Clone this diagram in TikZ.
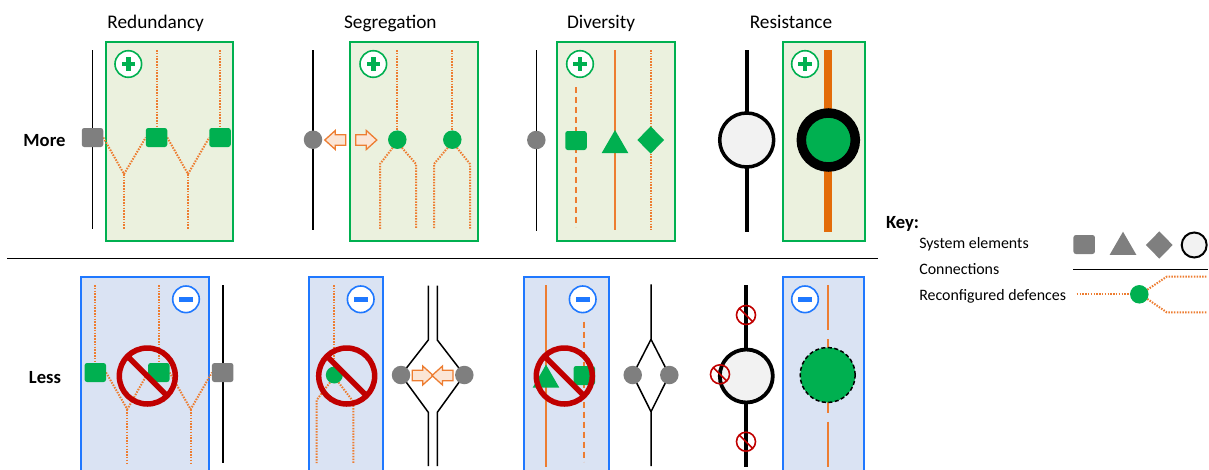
\documentclass[tikz,border=0pt]{standalone}
\usepackage{fontspec}
\setmainfont{Carlito}
\usetikzlibrary{shapes.geometric}
\pgfdeclarelayer{panel}
\pgfdeclarelayer{wire}
\pgfsetlayers{panel,wire,main}

\definecolor{elgreen}{HTML}{00B050}
\definecolor{elgray}{HTML}{7F7F7F}
\definecolor{reconor}{HTML}{ED7D31}
\definecolor{thickor}{HTML}{E36C09}
\definecolor{boxgreen}{HTML}{EBF1DE}
\definecolor{boxblue}{HTML}{DAE3F3}
\definecolor{edgeblue}{HTML}{1F78FF}
\definecolor{nored}{HTML}{C00000}
\definecolor{litegray}{HTML}{F2F2F2}
\definecolor{arrfill}{HTML}{FBE5D6}

\tikzset{
  every node/.style={inner sep=0pt, outer sep=0pt},
  title/.style={anchor=base, font=\fontsize{19.3}{23}\selectfont},
  rowlabel/.style={anchor=base, font=\bfseries\fontsize{18.6}{22}\selectfont},
  keytext/.style={anchor=base west, font=\fontsize{15.9}{19}\selectfont},
  grsq/.style={rectangle, rounded corners=2.5pt, minimum width=21.5pt, minimum height=19pt, fill=elgreen},
  gysq/.style={grsq, fill=elgray},
  grdot/.style={circle, minimum size=18.5pt, fill=elgreen},
  gydot/.style={grdot, fill=elgray},
  grtri/.style={regular polygon, regular polygon sides=3, minimum size=30.8pt, fill=elgreen},
  grdia/.style={diamond, minimum width=26.7pt, minimum height=27.3pt, fill=elgreen},
  conn/.style={draw=black, line width=1.5pt},
  heavy/.style={draw=black, line width=4.3pt},
  recon/.style={draw=reconor, line width=2pt, dash pattern=on 1.5pt off 1.3pt},
  recondash/.style={draw=reconor, line width=1.8pt, dash pattern=on 6pt off 4pt},
  reconsolid/.style={draw=reconor, line width=1.7pt},
  morebox/.style={fill=boxgreen, draw=elgreen, line width=1.8pt},
  lessbox/.style={fill=boxblue, draw=edgeblue, line width=1.8pt},
  plusmark/.pic={
    \draw[draw=elgreen, fill=white, line width=1.6pt] (0,0) circle (13.3pt);
    \fill[elgreen] (-6.7,-2.2) rectangle (6.7,2.2);
    \fill[elgreen] (-2.2,-6.7) rectangle (2.2,6.7);
  },
  minusmark/.pic={
    \draw[draw=edgeblue, fill=white, line width=1.6pt] (0,0) circle (13.3pt);
    \fill[edgeblue] (-6.8,-2.5) rectangle (6.8,2.5);
  },
  nosign/.pic={
    \draw[draw=nored, line width=5.5pt] (0,0) circle (28pt) (225:28) -- (45:28);
  },
  smallno/.pic={
    \draw[draw=nored, line width=1.6pt] (0,0) circle (9.5pt) (225:9.5) -- (45:9.5);
  },
  blockarrow/.pic={
    \draw[draw=reconor, fill=arrfill, line width=1.3pt, line join=miter]
      (-10.5,0) -- (0,-9.5) -- (0,-5.3) -- (10.5,-5.3) -- (10.5,5.3) -- (0,5.3) -- (0,9.5) -- cycle;
  },
}

\begin{document}
\begin{tikzpicture}[x=1pt,y=-1pt]
\useasboundingbox (0,0) rectangle (1209,469);

% column titles and row labels
\node[title] (tRed) at (155.7,28.3) {Redundancy};
\node[title] (tSeg) at (390.3,28.3) {Segregation};
\node[title] (tDiv) at (601,28.3) {Diversity};
\node[title] (tRes) at (791,28.3) {Resistance};
\node[rowlabel] (lMore) at (44.5,146.7) {More};
\node[rowlabel] (lLess) at (45,383.3) {Less};

% shaded panels
\begin{pgfonlayer}{panel}
  \draw[morebox] (106,41.7) rectangle (233,241);
  \draw[morebox] (350.3,41.7) rectangle (478.3,241);
  \draw[morebox] (556.7,41.7) rectangle (675,241);
  \draw[morebox] (782.7,41.7) rectangle (865,241);
  \draw[lessbox] (81,276.7) rectangle (208.7,471);
  \draw[lessbox] (309,276.7) rectangle (383.3,471);
  \draw[lessbox] (524,276.7) rectangle (608.7,471);
  \draw[lessbox] (783.3,276.7) rectangle (864.3,471);
\end{pgfonlayer}

% separator between the two rows
\coordinate (sepL) at (7,258.5);
\coordinate (sepR) at (878,258.5);
\draw[conn] (sepL) -- (sepR);

% ---------- More: redundancy ----------
\node[gysq] (rdA) at (92.5,137.5) {};
\node[grsq] (rdB) at (156.5,137.5) {};
\node[grsq] (rdC) at (220,137.5) {};
\coordinate (rdY1) at (124,174);
\coordinate (rdY2) at (188,174);
\begin{pgfonlayer}{wire}
  \draw[conn] (92.5,50) -- (92.5,229);
  \draw[recon] (156.5,50) -- (rdB.north);
  \draw[recon] (220,50) -- (rdC.north);
  \draw[recon] (rdA.east) -- (rdY1) -- (rdB.west);
  \draw[recon] (rdY1) -- (124,229);
  \draw[recon] (rdB.east) -- (rdY2) -- (rdC.west);
  \draw[recon] (rdY2) -- (188,229);
\end{pgfonlayer}
\pic at (128.3,64) {plusmark};

% ---------- More: segregation ----------
\node[gydot] (sgA) at (313,139.7) {};
\node[grdot] (sgB) at (397.3,139.7) {};
\node[grdot] (sgC) at (452.3,139.7) {};
\begin{pgfonlayer}{wire}
  \draw[conn] (313,50) -- (313,230);
  \draw[recon] (397.3,50) -- (sgB.north);
  \draw[recon] (452.3,50) -- (sgC.north);
  \draw[recon] (sgB.240) -- (380,164) -- (380,229);
  \draw[recon] (sgB.300) -- (416,164) -- (416,229);
  \draw[recon] (sgC.240) -- (434,164) -- (434,229);
  \draw[recon] (sgC.300) -- (470,164) -- (470,229);
\end{pgfonlayer}
\pic at (335.3,140) {blockarrow};
\pic[xscale=-1] at (366.3,140) {blockarrow};
\pic at (373.3,64) {plusmark};

% ---------- More: diversity ----------
\node[gydot] (dvA) at (536.3,140) {};
\node[grsq] (dvB) at (576,140.5) {};
\node[grtri] (dvC) at (615,145.4) {};
\node[grdia] (dvD) at (650.7,140) {};
\begin{pgfonlayer}{wire}
  \draw[conn] (536.3,50) -- (536.3,231);
  \draw[recondash] (576,87) -- (576,227);
  \draw[reconsolid] (615,50) -- (615,230);
  \draw[recon] (650.7,50) -- (650.7,230);
\end{pgfonlayer}
\pic at (580,64) {plusmark};

% ---------- More: resistance ----------
\node[circle, minimum size=54pt, draw=black, line width=3.5pt, fill=litegray] (rsA) at (746.7,140) {};
\node[circle, minimum size=54pt, draw=black, line width=9.5pt, fill=elgreen] (rsB) at (828.3,140) {};
\begin{pgfonlayer}{wire}
  \draw[heavy] (746.7,50) -- (746.7,232);
  \draw[draw=thickor, line width=8pt] (828.3,50) -- (828.3,232);
\end{pgfonlayer}
\pic at (805,64) {plusmark};

% ---------- Less: redundancy ----------
\node[grsq] (lrA) at (95.3,372.5) {};
\node[grsq] (lrB) at (158.8,372.5) {};
\node[gysq] (lrC) at (222.7,372.5) {};
\coordinate (lrY1) at (127.3,409.3);
\coordinate (lrY2) at (190.7,409.3);
\begin{pgfonlayer}{wire}
  \draw[recon] (95.3,285) -- (lrA.north);
  \draw[recon] (158.8,285) -- (lrB.north);
  \draw[conn] (223,285) -- (223,463.3);
  \draw[recon] (lrA.east) -- (lrY1) -- (lrB.west);
  \draw[recon] (lrY1) -- (127.3,463);
  \draw[recon] (lrB.east) -- (lrY2) -- (lrC.west);
  \draw[recon] (lrY2) -- (190.7,463);
\end{pgfonlayer}
\pic at (186,299.3) {minusmark};
\pic at (147.3,376) {nosign};

% ---------- Less: segregation ----------
\node[grdot, minimum size=17pt] (lsA) at (334.3,375) {};
\begin{pgfonlayer}{wire}
  \draw[recon] (334.3,285) -- (lsA.north);
  \draw[recon] (lsA.240) -- (316.7,400) -- (316.7,463);
  \draw[recon] (lsA.300) -- (353.3,401.7) -- (353.3,463);
\end{pgfonlayer}
\pic at (360.7,299.3) {minusmark};
\pic at (346.7,376) {nosign};

\node[gydot] (lsB) at (401,375) {};
\node[gydot] (lsC) at (464.3,375) {};
\coordinate (lsLt) at (428.3,340);
\coordinate (lsLb) at (428.3,412.3);
\coordinate (lsRt) at (437.3,340);
\coordinate (lsRb) at (437.3,412.3);
\begin{pgfonlayer}{wire}
  \draw[conn] (428.3,285.7) -- (lsLt) -- (lsB.center) -- (lsLb) -- (428.3,466);
  \draw[conn] (437.3,285.7) -- (lsRt) -- (lsC.center) -- (lsRb) -- (437.3,466);
\end{pgfonlayer}
\pic[xscale=-1] at (422.7,375.5) {blockarrow};
\pic at (442.5,375.5) {blockarrow};

% ---------- Less: diversity ----------
\node[grtri] (ldA) at (546,380) {};
\node[grsq] (ldB) at (584.3,375.5) {};
\begin{pgfonlayer}{wire}
  \draw[reconsolid] (546,285) -- (546,466.7);
  \draw[recondash] (584.3,321.7) -- (584.3,461.7);
\end{pgfonlayer}
\pic at (582.7,299.3) {minusmark};
\pic at (564.3,376) {nosign};

\node[gydot] (ldC) at (632.7,375) {};
\node[gydot] (ldD) at (669.3,375) {};
\coordinate (ldTop) at (651,339.3);
\coordinate (ldBot) at (651,411.7);
\begin{pgfonlayer}{wire}
  \draw[conn] (651,284.3) -- (ldTop) -- (ldC.center) -- (ldBot) -- (651,466);
  \draw[conn] (ldTop) -- (ldD.center) -- (ldBot);
\end{pgfonlayer}

% ---------- Less: resistance ----------
\node[circle, minimum size=53pt, draw=black, line width=3.8pt, fill=litegray] (lzA) at (746.3,376) {};
\begin{pgfonlayer}{wire}
  \draw[heavy] (746.3,285) -- (746.3,466.7);
\end{pgfonlayer}
\pic at (746,315) {smallno};
\pic at (720,374.3) {smallno};
\pic at (746,441.7) {smallno};

\node[circle, minimum size=55pt, draw=black, line width=1.5pt, dash pattern=on 4pt off 2.5pt, fill=elgreen] (lzB) at (827.7,375) {};
\begin{pgfonlayer}{wire}
  \draw[reconsolid] (827.7,285) -- (827.7,330);
  \draw[reconsolid] (827.7,339.3) -- (827.7,412.7);
  \draw[reconsolid] (827.7,421.7) -- (827.7,466.7);
\end{pgfonlayer}
\pic at (805,299.3) {minusmark};

% ---------- key ----------
\node[rowlabel, anchor=base west] (kTitle) at (886,228.3) {Key:};
\node[keytext] (kT1) at (919.3,248.3) {System elements};
\node[keytext] (kT2) at (919.3,274) {Connections};
\node[keytext] (kT3) at (919.3,300) {Reconfigured defences};

\node[gysq] (kA) at (1084.2,244.5) {};
\node[grtri, fill=elgray] (kB) at (1123,247.1) {};
\node[grdia, fill=elgray] (kC) at (1159.3,245) {};
\node[circle, minimum size=25pt, draw=black, line width=2pt, fill=litegray] (kD) at (1194.2,245) {};

\coordinate (kLineL) at (1073.3,269.3);
\coordinate (kLineR) at (1208.3,269.3);
\draw[conn] (kLineL) -- (kLineR);

\node[grdot] (kE) at (1139.3,294.3) {};
\coordinate (kIn) at (1076.7,294.3);
\coordinate (kUp) at (1166.7,276.7);
\coordinate (kDn) at (1166.7,312.3);
\begin{pgfonlayer}{wire}
  \draw[recon] (kIn) -- (kE.west);
  \draw[recon] (kE.30) -- (kUp) -- (1206.7,276.7);
  \draw[recon] (kE.-30) -- (kDn) -- (1206.7,312.3);
\end{pgfonlayer}
\end{tikzpicture}
\end{document}
